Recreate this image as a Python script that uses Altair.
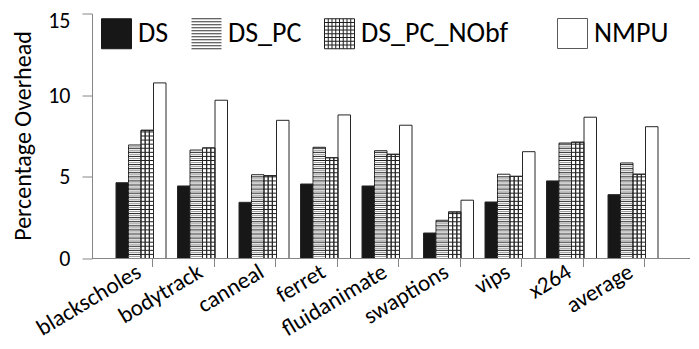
import altair as alt
import pandas as pd

categories = ["blackscholes", "bodytrack", "canneal", "ferret", "fluidanimate",
              "swaptions", "vips", "x264", "average"]
series = ["DS", "DS_PC", "DS_PC_NObf", "NMPU"]
ds = [4.64, 4.44, 3.44, 4.56, 4.44, 1.56, 3.46, 4.75, 3.91]
ds_pc = [6.95, 6.64, 5.13, 6.81, 6.60, 2.34, 5.16, 7.07, 5.85]
ds_pc_nobf = [7.85, 6.77, 5.07, 6.17, 6.38, 2.85, 5.03, 7.12, 5.16]
nmpu = [10.75, 9.69, 8.46, 8.79, 8.16, 3.57, 6.54, 8.65, 8.07]
y_ticks = [0, 5, 10, 15]

values = {"DS": ds, "DS_PC": ds_pc, "DS_PC_NObf": ds_pc_nobf, "NMPU": nmpu}
df = pd.DataFrame([{"category": c, "series": s, "value": values[s][i]}
                   for s in series for i, c in enumerate(categories)])

W, H = 598, 245
FONT = "Carlito, Lato, sans-serif"
AXIS_GRAY = "#868686"
EDGE = "#262626"
STEP = 61.5
X0 = 18.25
GROUP = [5.75, 55.75]

x_scale = alt.Scale(domain=categories, range=[X0, X0 + len(categories) * STEP],
                    paddingInner=0, paddingOuter=0)
y_scale = alt.Scale(domain=[0, 15], nice=False)
off_scale = alt.Scale(domain=series, range=GROUP, paddingInner=0, paddingOuter=0)
sub_domain = [f"{s}|{k}" for s in series for k in range(3)]
off_sub_scale = alt.Scale(domain=sub_domain, range=GROUP, paddingInner=0, paddingOuter=0)

x_axis = alt.Axis(title=None, bandPosition=0.695, domain=False, ticks=True,
                  tickSize=8, tickColor=AXIS_GRAY, labelAngle=-31,
                  labelAlign="right", labelBaseline="middle", labelFont=FONT,
                  labelFontSize=23, labelColor="black", labelPadding=3,
                  labelOffset=-2, labelOverlap=False)
y_axis = alt.Axis(values=y_ticks, title="Percentage Overhead", grid=False,
                  domainColor=AXIS_GRAY, tickColor=AXIS_GRAY, tickSize=10,
                  labelFont=FONT, labelFontSize=22, labelColor="black",
                  labelPadding=12,
                  labelOffset={"condition": {"test": f"datum.value == {y_ticks[-1]}", "value": 7},
                               "value": 0},
                  titleFont=FONT, titleFontSize=24,
                  titleFontWeight="normal", titleColor="black", titleX=-69,
                  titleY=122, titleAngle=270, titleAlign="center",
                  titleBaseline="middle")

X = alt.X("category:N", scale=x_scale, axis=x_axis)
XO = alt.XOffset("series:N", scale=off_scale)

def Y(field):
    return alt.Y(field, scale=y_scale, axis=y_axis)

base = alt.Chart(df)

bars = base.mark_bar(stroke=EDGE, strokeWidth=1).encode(
    x=X, xOffset=XO, y=Y("value:Q"),
    fill=alt.condition(alt.datum.series == "DS", alt.value("#171717"), alt.value("white")),
)

stripes_pc = (
    base.transform_filter(alt.datum.series == "DS_PC")
    .transform_calculate(s="sequence(0.125, datum.value - 0.05, 0.125)")
    .transform_flatten(["s"])
    .transform_calculate(k="round(datum.s / 0.125) % 2")
    .mark_tick(size=12.5, thickness=1, orient="horizontal", opacity=1)
    .encode(x=X, xOffset=XO, y=Y("s:Q"),
            color=alt.condition("datum.k == 0", alt.value("#1e1e1e"), alt.value("#9a9a9a")))
)

stripes_nobf = (
    base.transform_filter(alt.datum.series == "DS_PC_NObf")
    .transform_calculate(s="sequence(0.25, datum.value - 0.05, 0.25)")
    .transform_flatten(["s"])
    .mark_tick(size=12.5, thickness=1, orient="horizontal", opacity=1, color="#1e1e1e")
    .encode(x=X, xOffset=XO, y=Y("s:Q"))
)

grid_v = (
    base.transform_filter(alt.datum.series == "DS_PC_NObf")
    .transform_calculate(sub="[0, 1, 2]")
    .transform_flatten(["sub"])
    .transform_calculate(slot="datum.series + '|' + datum.sub")
    .mark_bar(fillOpacity=0, stroke=EDGE, strokeWidth=1)
    .encode(x=X, xOffset=alt.XOffset("slot:N", scale=off_sub_scale), y=Y("value:Q"))
)

square = "M-1,-1H1V1H-1Z"
hl = "".join(f"M-1,{-1 + 0.2 * i:.2f}H1" for i in range(11))
grid = "".join(f"M-1,{-1 + 0.25 * i:.2f}H1" for i in range(9)) + \
       "".join(f"M{-1 + 0.25 * i:.2f},-1V1" for i in range(9))
leg_domain = series[:3]

def legend_props(x):
    return dict(orient="none", legendX=x, legendY=4.5, direction="horizontal",
                title=None, padding=0, symbolSize=900, symbolStrokeWidth=1,
                symbolOpacity=1, labelFont=FONT,
                labelFontSize=28, labelColor="black", labelOffset=6,
                columnPadding=20, labelLimit=400)

legend_a = (
    base.transform_filter("false")
    .mark_point(filled=True, opacity=1)
    .encode(
        fill=alt.Fill("series:N", scale=alt.Scale(domain=leg_domain, range=["#171717", "white", "white"]),
                      legend=alt.Legend(**legend_props(9))),
        stroke=alt.Stroke("series:N", scale=alt.Scale(domain=leg_domain, range=["#171717", "#333333", "#1e1e1e"]),
                          legend=alt.Legend(**legend_props(9))),
        shape=alt.Shape("series:N", scale=alt.Scale(domain=leg_domain, range=[square, hl, grid]),
                        legend=alt.Legend(**legend_props(9))),
    )
)

props_b = legend_props(465)
props_b.update(symbolType=square, symbolFillColor="white", symbolStrokeColor="#5a5a5a")
legend_b = (
    base.transform_filter("false")
    .mark_point(filled=False, opacity=1, color="#5a5a5a", shape=square)
    .encode(opacity=alt.Opacity("series:N", scale=alt.Scale(domain=series[3:], range=[1]),
                                legend=alt.Legend(**props_b)))
)

axis_line = alt.Chart(pd.DataFrame({"a": [0]})).mark_rule(color=AXIS_GRAY, strokeWidth=1).encode(
    x=alt.value(0), x2=alt.value(W), y=alt.value(H))

chart = (
    alt.layer(bars, stripes_pc, stripes_nobf, grid_v, axis_line, legend_a, legend_b)
    .resolve_scale(xOffset="independent")
    .properties(width=W, height=H,
                padding={"left": 84, "top": 5.5, "right": 0, "bottom": 82},
                autosize=alt.AutoSizeParams(type="none"))
    .configure_view(stroke=None)
)

chart.save("out.html", embed_options={"renderer": "svg", "actions": False})
